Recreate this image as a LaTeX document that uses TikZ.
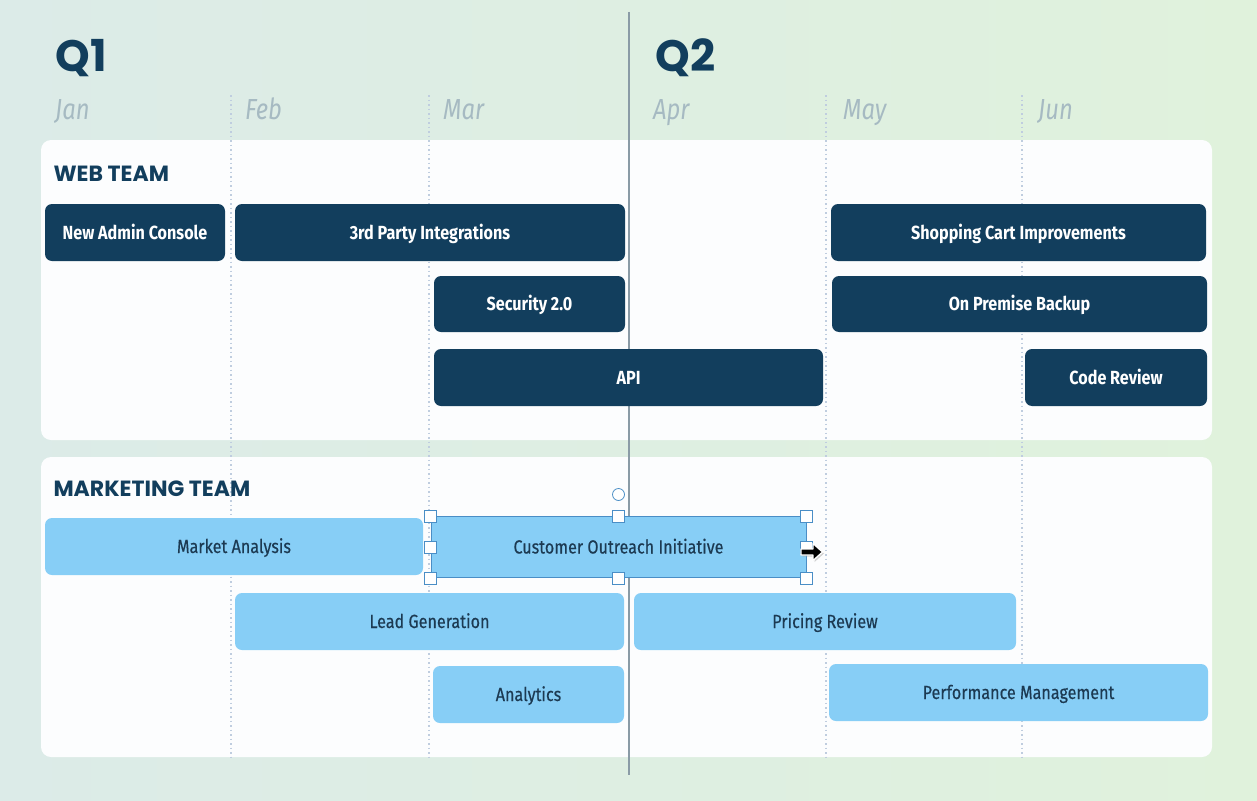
\documentclass[tikz,border=0pt]{standalone}
\usepackage{fontspec}
\usetikzlibrary{calc}
\newfontfamily\headfont{Poppins}
\newfontfamily\barfont{Fira Sans}[FakeStretch=0.85]
\newfontfamily\lbarfont{Fira Sans}[FakeStretch=0.85, FakeBold=0.4]
\newfontfamily\monthfont{Fira Sans}[FakeStretch=0.82]
\definecolor{bgA}{HTML}{DCEBE8}
\definecolor{bgB}{HTML}{E2F3D8}
\definecolor{bgC}{HTML}{E0F2DC}
\definecolor{panel}{HTML}{FCFDFE}
\definecolor{navy}{HTML}{123E5D}
\definecolor{sky}{HTML}{87CEF6}
\definecolor{skytext}{HTML}{1C3A52}
\definecolor{month}{HTML}{A6BAC2}
\definecolor{grid}{HTML}{BFCDDF}
\definecolor{qline}{HTML}{8A9BA6}
\definecolor{sel}{HTML}{4A8EC6}
\tikzset{
  bar/.style={rounded corners=7pt, inner sep=0pt, text height=13pt, text depth=0pt},
  darkbar/.style={bar, fill=navy, text=white, font=\barfont\bfseries\fontsize{19}{19}\selectfont},
  lightbar/.style={bar, fill=sky, text=skytext, font=\lbarfont\fontsize{19}{19}\selectfont},
  selbar/.style={lightbar, rounded corners=0pt, draw=sel, line width=0.8pt},
  handle/.style={draw=sel, fill=white, line width=0.8pt, minimum size=12pt, inner sep=0pt},
  monthlbl/.style={anchor=west, text=month, inner sep=0pt, text height=19pt, text depth=0pt, font=\monthfont\itshape\fontsize{29}{29}\selectfont},
  quarter/.style={anchor=west, text=navy, font=\headfont\bfseries\fontsize{44}{44}\selectfont},
  team/.style={anchor=west, text=navy, font=\headfont\bfseries\fontsize{22}{22}\selectfont},
  panelbox/.style={fill=panel, rounded corners=10pt},
  monthline/.style={draw=grid, line width=1.1pt, dash pattern=on 1.5pt off 3pt},
}
\begin{document}
\begin{tikzpicture}[x=1pt,y=-1pt]
\useasboundingbox (0,0) rectangle (1257,800);
\shade[left color=bgA, middle color=bgB, right color=bgC] (0,0) rectangle (1257,800);
% panels
\path[panelbox] (41,140) rectangle (1212,440);
\path[panelbox] (41,457) rectangle (1212,757);
% month lines
\foreach \mx in {231,429,826,1022}{
  \draw[monthline] (\mx,95) -- (\mx,757);
}
% quarter line
\draw[qline, line width=1.2pt] (629,12) -- (629,775);
% headings
\node[quarter] (q1) at (52,58) {Q1};
\node[quarter] (q2) at (652,58) {Q2};
\node[monthlbl] (jan) at (55,110) {Jan};
\node[monthlbl] (feb) at (245,110) {Feb};
\node[monthlbl] (mar) at (443,110) {Mar};
\node[monthlbl] (apr) at (653,110) {Apr};
\node[monthlbl] (may) at (843,110) {May};
\node[monthlbl] (jun) at (1038,110) {Jun};
\node[team] (web) at (50,174) {WEB TEAM};
\node[team] (mkt) at (50,489) {MARKETING TEAM};
% web bars
\node[darkbar, minimum width=180pt, minimum height=57pt] (nac) at (135,232.5) {New Admin Console};
\node[darkbar, minimum width=390pt, minimum height=57pt] (tpi) at (430,232.5) {3rd Party Integrations};
\node[darkbar, minimum width=191pt, minimum height=56pt] (sec) at (529.5,304) {Security 2.0};
\node[darkbar, minimum width=389pt, minimum height=57pt] (api) at (628.5,377.5) {API};
\node[darkbar, minimum width=375pt, minimum height=57pt] (scart) at (1018.5,232.5) {Shopping Cart Improvements};
\node[darkbar, minimum width=375pt, minimum height=56pt] (opb) at (1019.5,304) {On Premise Backup};
\node[darkbar, minimum width=182pt, minimum height=57pt] (cr) at (1116,377.5) {Code Review};
% marketing bars
\node[lightbar, minimum width=378pt, minimum height=57pt] (ma) at (234,546.5) {Market Analysis};
\node[lightbar, minimum width=389pt, minimum height=57pt] (lg) at (429.5,621.5) {Lead Generation};
\node[lightbar, minimum width=382pt, minimum height=57pt] (pr) at (825,621.5) {Pricing Review};
\node[lightbar, minimum width=191pt, minimum height=57pt] (an) at (528.5,694.5) {Analytics};
\node[lightbar, minimum width=379pt, minimum height=57pt] (pm) at (1018.5,692.5) {Performance Management};
\node[selbar, minimum width=375pt, minimum height=61pt] (coi) at (618.5,547) {Customer Outreach Initiative};
% selection handles
\node[handle] (h1) at (coi.north west) {};
\node[handle] (h2) at (coi.north) {};
\node[handle] (h3) at (coi.north east) {};
\node[handle] (h4) at (coi.west) {};
\node[handle] (h5) at (coi.east) {};
\node[handle] (h6) at (coi.south west) {};
\node[handle] (h7) at (coi.south) {};
\node[handle] (h8) at (coi.south east) {};
\node[draw=sel, fill=white, circle, line width=0.8pt, minimum size=12pt, inner sep=0pt] (rot) at (618.5,494.5) {};
% cursor
\coordinate (cur) at (801,552);
\fill[black!35, opacity=0.5]
  ($(cur)+(1.5,-1.5)$) -- ++(12,0) -- ++(0,-5.5) -- ++(9.5,8.5) -- ++(-9.5,8.5) -- ++(0,-5.5) -- ++(-12,0) -- cycle;
\filldraw[fill=black, draw=white, line width=1.3pt, line join=round]
  ($(cur)+(0,-3)$) -- ++(12,0) -- ++(0,-5.5) -- ++(9.5,8.5) -- ++(-9.5,8.5) -- ++(0,-5.5) -- ++(-12,0) -- cycle;
\end{tikzpicture}
\end{document}
